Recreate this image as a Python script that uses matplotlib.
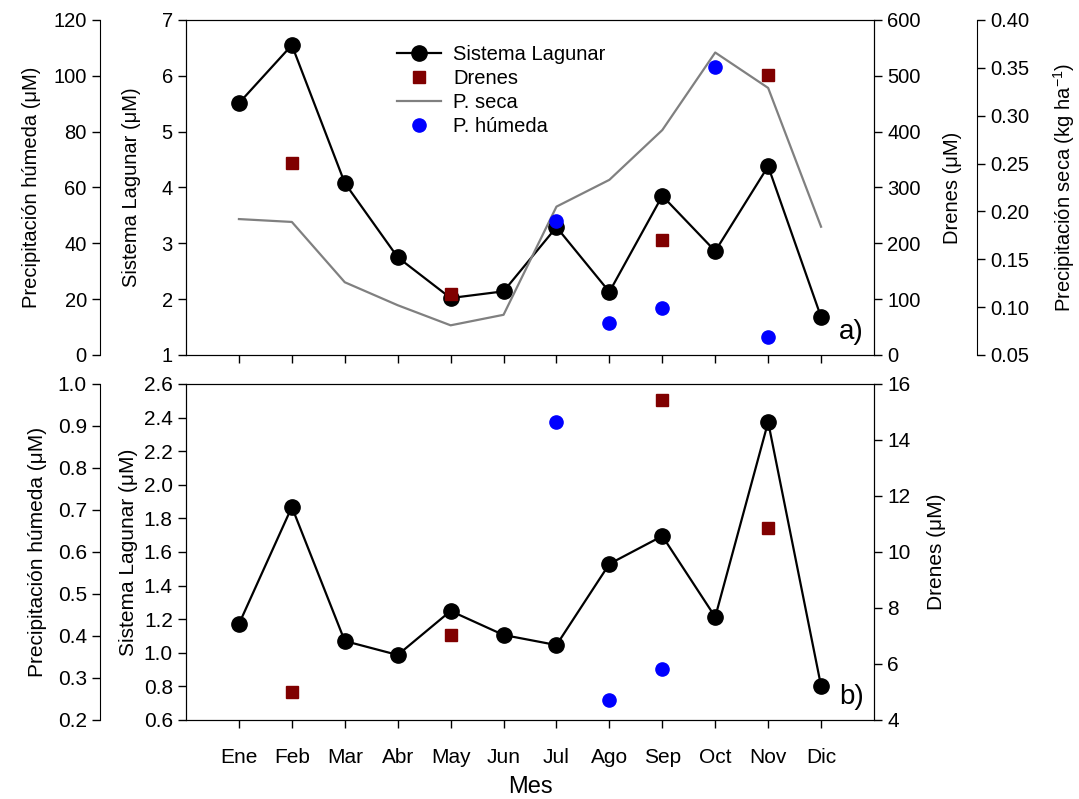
import numpy as np
import matplotlib
matplotlib.use("Agg")
import matplotlib.pyplot as plt
from matplotlib.ticker import FormatStrFormatter

plt.rcParams['font.family'] = ['Liberation Sans', 'DejaVu Sans']
plt.rcParams['mathtext.fontset'] = 'custom'
plt.rcParams['mathtext.rm'] = 'Liberation Sans'

meses = ['Ene', 'Feb', 'Mar', 'Abr', 'May', 'Jun', 'Jul', 'Ago', 'Sep', 'Oct', 'Nov', 'Dic']
x = np.arange(12)

# panel a)
lag_a = [5.51, 6.55, 4.08, 2.75, 2.02, 2.14, 3.29, 2.13, 3.85, 2.86, 4.38, 1.68]
dren_a_mes = [1, 4, 8, 10]
dren_a = [344, 109, 206, 501]
seca_a = [0.192, 0.189, 0.126, 0.102, 0.081, 0.092, 0.205, 0.233, 0.285, 0.366, 0.329, 0.184]
hum_a_mes = [6, 7, 8, 9, 10]
hum_a = [47.9, 11.5, 16.8, 103.2, 6.5]

# panel b)
lag_b = [1.171, 1.868, 1.07, 0.987, 1.249, 1.106, 1.046, 1.529, 1.695, 1.213, 2.374, 0.802]
dren_b_mes = [1, 4, 8, 10]
dren_b = [5.0, 7.04, 15.43, 10.86]
hum_b_mes = [6, 7, 8]
hum_b = [0.910, 0.248, 0.321]

fs = 14.5
fig = plt.figure(figsize=(10.79, 7.99), dpi=100)
ax1 = fig.add_axes([0.1724, 0.5557, 0.6376, 0.4193])
ax2 = fig.add_axes([0.1724, 0.0989, 0.6376, 0.4205])


def outer(ax, side, pos):
    t = ax.twinx()
    t.spines[side].set_position(('axes', pos))
    for s in ['top', 'bottom', 'left', 'right']:
        t.spines[s].set_visible(s == side)
    t.yaxis.set_ticks_position(side)
    t.yaxis.set_label_position(side)
    return t


def style(ax, size):
    ax.tick_params(direction='out', length=6, width=1, labelsize=size)


# ---------- top ----------
ax1.plot(x, lag_a, '-o', color='black', lw=1.6, ms=11, label='Sistema Lagunar', zorder=5)
ax1.set_xlim(-1, 12)
ax1.set_ylim(1, 7)
ax1.set_xticks(x)
ax1.set_xticklabels([])
ax1.set_ylabel('Sistema Lagunar (μM)', fontsize=fs, labelpad=15)

d1 = ax1.twinx()
d1.plot(dren_a_mes, dren_a, 's', color='#800000', ms=8, label='Drenes')
d1.set_ylim(0, 600)
d1.set_ylabel('Drenes (μM)', fontsize=fs, labelpad=16)

s1 = outer(ax1, 'right', 1.1497)
s1.plot(x, seca_a, '-', color='#808080', lw=1.6, label='P. seca')
s1.set_ylim(0.05, 0.40)
s1.yaxis.set_major_formatter(FormatStrFormatter('%.2f'))
s1.set_ylabel('Precipitación seca (kg ha$^{-1}$)', fontsize=fs, labelpad=16)

h1 = outer(ax1, 'left', -0.125)
h1.plot(hum_a_mes, hum_a, 'o', color='#0000ff', ms=9.5, label='P. húmeda')
h1.set_ylim(0, 120)
h1.set_ylabel('Precipitación húmeda (μM)', fontsize=fs, labelpad=9)

for a in [ax1, d1, s1, h1]:
    style(a, fs)

hs, ls = [], []
for a in [ax1, d1, s1, h1]:
    hh, ll = a.get_legend_handles_labels()
    hs += hh
    ls += ll
h1.legend(hs, ls, loc='upper left', bbox_to_anchor=(0.295, 0.95), frameon=False,
          fontsize=fs, handlelength=2.2, labelspacing=0.25, borderaxespad=0,
          handletextpad=0.6)
ax1.text(0.985, 0.03, 'a)', transform=ax1.transAxes, ha='right', va='bottom', fontsize=20)

# ---------- bottom ----------
fb = 15
ax2.plot(x, lag_b, '-o', color='black', lw=1.6, ms=11, zorder=5)
ax2.set_xlim(-1, 12)
ax2.set_ylim(0.6, 2.6)
ax2.set_yticks(np.arange(0.6, 2.61, 0.2))
ax2.yaxis.set_major_formatter(FormatStrFormatter('%.1f'))
ax2.set_xticks(x)
ax2.set_xticklabels(meses)
ax2.set_xlabel('Mes', fontsize=17, labelpad=7)
ax2.set_ylabel('Sistema Lagunar (μM)', fontsize=fb, labelpad=4)

d2 = ax2.twinx()
d2.plot(dren_b_mes, dren_b, 's', color='#800000', ms=8)
d2.set_ylim(4, 16)
d2.set_ylabel('Drenes (μM)', fontsize=fb, labelpad=12)

h2 = outer(ax2, 'left', -0.125)
h2.plot(hum_b_mes, hum_b, 'o', color='#0000ff', ms=9.5)
h2.set_ylim(0.2, 1.0)
h2.yaxis.set_major_formatter(FormatStrFormatter('%.1f'))
h2.set_ylabel('Precipitación húmeda (μM)', fontsize=fb, labelpad=8)

for a in [ax2, d2, h2]:
    style(a, fb)
ax2.tick_params(axis='x', pad=14)

ax2.text(0.985, 0.03, 'b)', transform=ax2.transAxes, ha='right', va='bottom', fontsize=20)

fig.savefig('out.png', dpi=100)
